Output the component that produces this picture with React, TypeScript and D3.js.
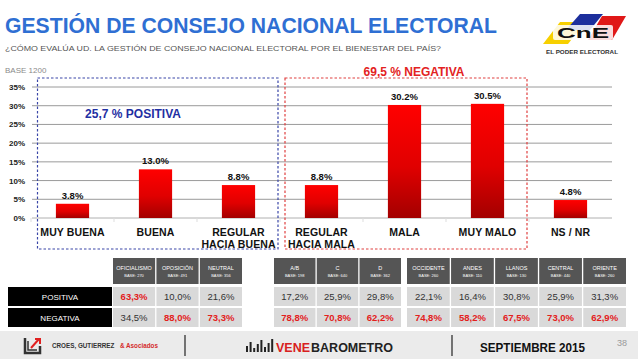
import React from "react";
import * as d3 from "d3";

const categories = ["MUY BUENA", "BUENA", "REGULAR\nHACIA BUENA", "REGULAR\nHACIA MALA", "MALA", "MUY MALO", "NS / NR"];
const values = [3.8, 13.0, 8.8, 8.8, 30.2, 30.5, 4.8];
const yTicks = [0, 5, 10, 15, 20, 25, 30, 35];

const groupA = ["OFICIALISMO|BASE: 270", "OPOSICIÓN|BASE: 491", "NEUTRAL|BASE: 356"];
const groupB = ["A/B|BASE: 198", "C|BASE: 640", "D|BASE: 362"];
const groupC = ["OCCIDENTE|BASE: 260", "ANDES|BASE: 110", "LLANOS|BASE: 130", "CENTRAL|BASE: 440", "ORIENTE|BASE: 260"];
const rowLabels = ["POSITIVA", "NEGATIVA"];
const positiva = ["63,3%", "10,0%", "21,6%", "17,2%", "25,9%", "29,8%", "22,1%", "16,4%", "30,8%", "25,9%", "31,3%"];
const negativa = ["34,5%", "88,0%", "73,3%", "78,8%", "70,8%", "62,2%", "74,8%", "58,2%", "67,5%", "73,0%", "62,9%"];
const highlightPos = [true, false, false, false, false, false, false, false, false, false, false];
const highlightNeg = [false, true, true, true, true, true, true, true, true, true, true];

const FONT = "'Liberation Sans', Arial, Helvetica, sans-serif";

export default function App() {
  const W = 638, H = 359;
  const x = d3.scaleBand<string>().domain(categories).range([31, 612]).paddingInner(0.6).paddingOuter(0.3);
  const y = d3.scaleLinear().domain([0, 35]).range([218, 87]);

  const gA = d3.scaleBand<string>().domain(groupA).range([113, 242]).paddingInner(0.03);
  const gB = d3.scaleBand<string>().domain(groupB).range([274, 401]).paddingInner(0.03);
  const gC = d3.scaleBand<string>().domain(groupC).range([407, 626]).paddingInner(0.03);
  const cols = [
    ...groupA.map((d) => ({ key: d, x: gA(d)!, w: gA.bandwidth() })),
    ...groupB.map((d) => ({ key: d, x: gB(d)!, w: gB.bandwidth() })),
    ...groupC.map((d) => ({ key: d, x: gC(d)!, w: gC.bandwidth() })),
  ];
  const rows = [
    { label: rowLabels[0], vals: positiva, hl: highlightPos, y: 287, h: 19 },
    { label: rowLabels[1], vals: negativa, hl: highlightNeg, y: 308, h: 19 },
  ];

  return (
    <svg width={W} height={H} style={{ position: "absolute", left: 0, top: 0, background: "#fff" }} fontFamily={FONT}>
      <defs>
        <linearGradient id="barGrad" x1="0" y1="0" x2="0" y2="1">
          <stop offset="0%" stopColor="#ff0000" />
          <stop offset="55%" stopColor="#e00000" />
          <stop offset="100%" stopColor="#a30000" />
        </linearGradient>
      </defs>
      <rect width={W} height={H} fill="#fff" />

      {/* Title */}
      <text x={5} y={33} fontSize={22} fontWeight="bold" fill="#2f6fd3" textLength={492} lengthAdjust="spacingAndGlyphs">
        GESTIÓN DE CONSEJO NACIONAL ELECTORAL
      </text>
      <text x={5} y={51} fontSize={8} fill="#555" textLength={436} lengthAdjust="spacingAndGlyphs">
        ¿CÓMO EVALÚA UD. LA GESTIÓN DE CONSEJO NACIONAL ELECTORAL POR EL BIENESTAR DEL PAÍS?
      </text>

      {/* CNE logo */}
      <g>
        <polygon points="543,44 560,22 585,22 568,44" fill="#f7d000" />
        <polygon points="566,30 580,14 603,14 590,30" fill="#1d2f9c" />
        <polygon points="588,40 602,16 626,16 612,40" fill="#e01818" />
        <rect x={553} y={25} width={60} height={15} rx={2} fill="#fff" opacity={0.85} />
        <text x={583} y={38} fontSize={15} fontWeight="bold" fill="#111" textAnchor="middle" textLength={52} lengthAdjust="spacingAndGlyphs">CnE</text>
        <text x={582} y={54} fontSize={5} fontWeight="bold" fill="#333" textAnchor="middle" textLength={72} lengthAdjust="spacingAndGlyphs">EL PODER ELECTORAL</text>
      </g>

      <text x={5} y={73} fontSize={8} fill="#8a8a8a">BASE 1200</text>

      {/* Gridlines */}
      {yTicks.map((t) => (
        <g key={t}>
          <line x1={32} x2={612} y1={y(t)} y2={y(t)} stroke={t === 0 ? "#b0b0b0" : "#9a9a9a"} strokeWidth={1} />
          <text x={25} y={y(t) + 3} fontSize={8} fontWeight="bold" fill="#222" textAnchor="end">{t}%</text>
        </g>
      ))}
      {categories.map((c, i) => (
        <line key={"tk" + i} x1={x(c)! - x.step() * 0.3} x2={x(c)! - x.step() * 0.3} y1={218} y2={222} stroke="#ddd" />
      ))}

      {/* Bars */}
      {categories.map((c, i) => (
        <g key={c}>
          <rect x={x(c)} y={y(values[i])} width={x.bandwidth()} height={y(0) - y(values[i])} fill="url(#barGrad)" />
          <text x={x(c)! + x.bandwidth() / 2} y={y(values[i]) - 5} fontSize={9.5} fontWeight="bold" fill="#111" textAnchor="middle">
            {values[i].toFixed(1)}%
          </text>
          {c.split("\n").map((ln, j) => (
            <text key={j} x={x(c)! + x.bandwidth() / 2} y={235.5 + j * 12} fontSize={10.5} fontWeight="bold" fill="#111" textAnchor="middle" letterSpacing={0.1}>
              {ln}
            </text>
          ))}
        </g>
      ))}

      {/* Dashed boxes */}
      <rect x={37.5} y={78} width={240.5} height={171} fill="none" stroke="#3a46a8" strokeWidth={1.2} strokeDasharray="2.5,2" />
      <rect x={285} y={78} width={242} height={171} fill="none" stroke="#e04040" strokeWidth={1.2} strokeDasharray="2.5,2" />
      <text x={133} y={118} fontSize={12} fontWeight="bold" fill="#1f2fa3" textAnchor="middle">25,7 % POSITIVA</text>
      <text x={414} y={76} fontSize={12} fontWeight="bold" fill="#e32222" textAnchor="middle">69,5 % NEGATIVA</text>

      {/* Table header */}
      {cols.map((c) => {
        const [name, base] = c.key.split("|");
        return (
          <g key={c.key}>
            <rect x={c.x} y={258} width={c.w} height={26} fill="#555555" />
            <text x={c.x + c.w / 2} y={270} fontSize={5.5} fill="#fff" textAnchor="middle">{name}</text>
            <text x={c.x + c.w / 2} y={277} fontSize={4} fill="#fff" textAnchor="middle">{base}</text>
          </g>
        );
      })}
      {rows.map((r) => (
        <g key={r.label}>
          <rect x={8} y={r.y} width={104} height={r.h} fill="#000" />
          <text x={60} y={r.y + r.h / 2 + 3} fontSize={8} fill="#fff" textAnchor="middle">{r.label}</text>
          {cols.map((c, i) => (
            <g key={c.key}>
              <rect x={c.x} y={r.y} width={c.w} height={r.h} fill="#d9d9d9" />
              <text x={c.x + c.w / 2} y={r.y + r.h / 2 + 3.5} fontSize={9.5} fontWeight={r.hl[i] ? "bold" : "normal"} fill={r.hl[i] ? "#e3201c" : "#333"} textAnchor="middle">
                {r.vals[i]}
              </text>
            </g>
          ))}
        </g>
      ))}

      {/* Footer */}
      <rect x={0} y={331} width={W} height={28} fill="#ebebeb" />
      <g>
        <path d="M25,338 V353 H40 V346" fill="none" stroke="#333" strokeWidth={2.5} />
        <path d="M28,341 V350 H37" fill="none" stroke="#333" strokeWidth={1.5} />
        <path d="M31,348 L39,339 M35,339 H40 V344" fill="none" stroke="#e02020" strokeWidth={2} />
        <text x={52} y={348} fontSize={6.3} fontWeight="bold" fill="#333">CROES, GUTIERREZ</text>
        <text x={120} y={348} fontSize={6.3} fontWeight="bold" fill="#d42a2a">&amp; Asociados</text>
      </g>
      <line x1={185} x2={185} y1={335} y2={356} stroke="#222" strokeWidth={1.2} />
      <g>
        {[6, 10, 4, 8, 12, 5, 9, 13].map((h, i) => (
          <rect key={i} x={246 + i * 3.6} y={352 - h} width={2} height={h} fill="#222" />
        ))}
        <text x={276} y={352} fontSize={12.5} fontWeight="bold" fill="#d82020">VENE</text>
        <text x={393} y={352} fontSize={12.5} fontWeight="bold" fill="#222" textAnchor="end">BAROMETRO</text>
      </g>
      <line x1={452} x2={452} y1={335} y2={356} stroke="#222" strokeWidth={1.2} />
      <text x={480} y={352} fontSize={12.5} fontWeight="bold" fill="#111" textLength={105} lengthAdjust="spacingAndGlyphs">SEPTIEMBRE 2015</text>
      <text x={617} y={346} fontSize={9} fill="#9a9a9a">38</text>
    </svg>
  );
}
